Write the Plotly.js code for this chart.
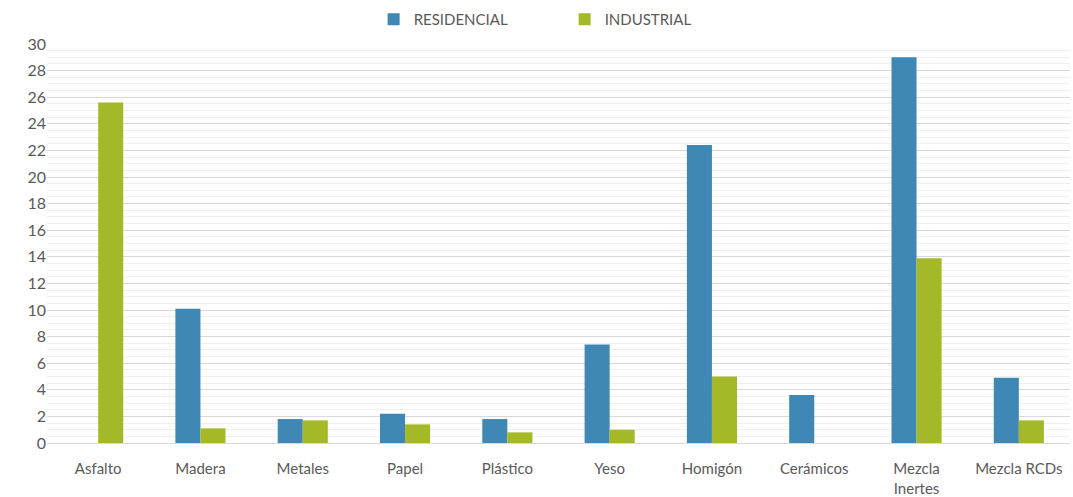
<!DOCTYPE html>
<html>
<head>
<meta charset="utf-8">
<script src="https://cdn.plot.ly/plotly-3.0.1.min.js"></script>
<style>html,body{margin:0;padding:0;background:#fff;}#chart{width:1073px;height:497px;}</style>
</head>
<body>
<div id="chart"></div>
<script>
const categories = ["Asfalto", "Madera", "Metales", "Papel", "Plástico", "Yeso", "Homigón", "Cerámicos", "Mezcla<br>Inertes", "Mezcla RCDs"];
const residencial = [0, 10.1, 1.8, 2.2, 1.8, 7.4, 22.4, 3.6, 29.0, 4.9];
const industrial = [25.6, 1.1, 1.7, 1.4, 0.8, 1.0, 5.0, 0, 13.9, 1.7];
const yTicks = [0, 2, 4, 6, 8, 10, 12, 14, 16, 18, 20, 22, 24, 26, 28, 30];

const fontFam = "Lato, 'Open Sans', sans-serif";
const data = [
  {type: "bar", name: "RESIDENCIAL", x: categories, y: residencial, marker: {color: "#3f88b5"}},
  {type: "bar", name: "INDUSTRIAL", x: categories, y: industrial, marker: {color: "#a5b828"}}
];
const layout = {
  width: 1073, height: 497,
  margin: {l: 47, r: 3, t: 44, b: 54},
  paper_bgcolor: "#fff", plot_bgcolor: "#fff",
  barmode: "group", bargap: 0.51, bargroupgap: 0,
  font: {family: fontFam, color: "#595959", size: 15},
  showlegend: true,
  legend: {orientation: "h", x: 0.506, xanchor: "center", y: 1.02, yanchor: "bottom",
           font: {size: 15, color: "#595959"}, entrywidth: 146, entrywidthmode: "pixels"},
  xaxis: {type: "category", showgrid: false, showline: true, linecolor: "#d9d9d9", linewidth: 1,
          ticks: "outside", ticklen: 12, tickcolor: "rgba(0,0,0,0)", tickfont: {size: 15, color: "#595959"}},
  yaxis: {range: [0, 30], tickvals: yTicks, ticktext: yTicks.map(String), showgrid: true,
          gridcolor: "#d9d9d9", gridwidth: 1, zeroline: false, ticks: "", tickfont: {size: 16, color: "#595959"},
          minor: {dtick: 0.5, showgrid: true, gridcolor: "#f0f0f0", gridwidth: 1}},
};
Plotly.newPlot("chart", data, layout, {displayModeBar: false, staticPlot: true});
</script>
</body>
</html>
